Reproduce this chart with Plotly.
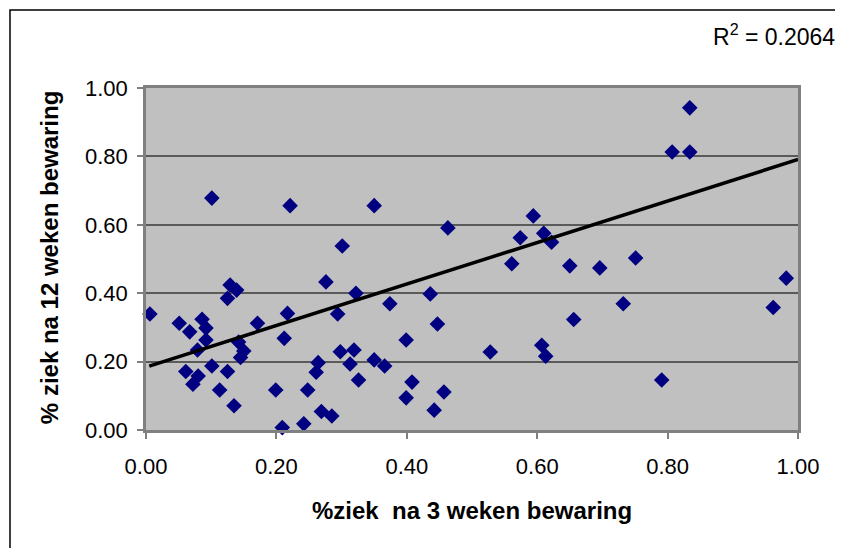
import plotly.graph_objects as go

# % ziek na 3 weken bewaring (x) and % ziek na 12 weken bewaring (y)
x_3weken = [0.006, 0.051, 0.061, 0.067, 0.072, 0.079, 0.080, 0.086, 0.092, 0.092,
            0.101, 0.101, 0.113, 0.125, 0.125, 0.129, 0.135, 0.139, 0.142, 0.145,
            0.150, 0.171, 0.199, 0.209, 0.212, 0.217, 0.221, 0.242, 0.248, 0.261,
            0.264, 0.269, 0.276, 0.285, 0.294, 0.298, 0.301, 0.313, 0.319, 0.322,
            0.326, 0.350, 0.350, 0.366, 0.374, 0.399, 0.399, 0.408, 0.436, 0.442,
            0.447, 0.457, 0.463, 0.528, 0.561, 0.574, 0.594, 0.607, 0.610, 0.613,
            0.622, 0.650, 0.656, 0.696, 0.732, 0.751, 0.791, 0.807, 0.834, 0.834,
            0.962, 0.982]
y_12weken = [0.339, 0.312, 0.171, 0.287, 0.134, 0.234, 0.158, 0.324, 0.298, 0.263,
             0.187, 0.678, 0.117, 0.171, 0.385, 0.424, 0.071, 0.409, 0.257, 0.212,
             0.231, 0.312, 0.117, 0.007, 0.268, 0.341, 0.656, 0.018, 0.117, 0.169,
             0.197, 0.054, 0.433, 0.041, 0.339, 0.229, 0.538, 0.193, 0.234, 0.400,
             0.146, 0.205, 0.656, 0.187, 0.369, 0.263, 0.094, 0.140, 0.398, 0.058,
             0.310, 0.111, 0.591, 0.228, 0.486, 0.562, 0.626, 0.248, 0.575, 0.216,
             0.549, 0.480, 0.323, 0.474, 0.369, 0.503, 0.146, 0.813, 0.813, 0.942,
             0.358, 0.444]

# trendline as drawn in the reference
trend_x = [0.005, 1.0]
trend_y = [0.187, 0.791]

tick_vals = [0.0, 0.2, 0.4, 0.6, 0.8, 1.0]
tick_text = ["0.00", "0.20", "0.40", "0.60", "0.80", "1.00"]
r2_label = "R<sup>2</sup> = 0.2064"
x_title = "%ziek\u00a0 na 3 weken bewaring"
y_title = "% ziek na 12 weken bewaring"

FONT = "Liberation Sans, Arial, sans-serif"

fig = go.Figure()
fig.add_trace(go.Scatter(
    x=x_3weken, y=y_12weken, mode="markers",
    marker=dict(symbol="diamond", size=12, color="#000080", line=dict(width=0)),
    cliponaxis=False, showlegend=False))
fig.add_trace(go.Scatter(
    x=trend_x, y=trend_y, mode="lines",
    line=dict(color="black", width=3.5), cliponaxis=False, showlegend=False))

axis_common = dict(
    range=[0, 1], tickvals=tick_vals, ticktext=tick_text,
    ticks="outside", ticklen=6, tickcolor="#808080", tickwidth=1.5,
    showline=True, linecolor="#808080", linewidth=2.5, mirror=True,
    zeroline=False, tickfont=dict(family=FONT, size=22, color="black"),
    fixedrange=True)

fig.update_xaxes(**axis_common, showgrid=False, ticklabelstandoff=9)
fig.update_yaxes(**axis_common, showgrid=True, gridcolor="#5a5a5a", gridwidth=1.5,
                 ticklabelstandoff=5)

fig.update_layout(
    width=843, height=548,
    margin=dict(l=138, r=53, t=80, b=126),
    paper_bgcolor="white", plot_bgcolor="#C0C0C0",
    font=dict(family=FONT, color="black"),
    annotations=[
        dict(text=r2_label, xref="paper", yref="paper", x=0.963, y=1.155,
             showarrow=False, font=dict(size=23), xanchor="center", yanchor="middle"),
        dict(text="<b>" + x_title + "</b>", xref="paper", yref="paper", x=0.5, y=-0.234,
             showarrow=False, font=dict(size=24), xanchor="center", yanchor="middle"),
        dict(text="<b>" + y_title + "</b>", xref="paper", yref="paper", x=-0.147, y=0.503,
             showarrow=False, font=dict(size=24), textangle=-90,
             xanchor="center", yanchor="middle"),
    ],
    shapes=[dict(type="rect", xref="paper", yref="paper",
                 x0=-0.2086, x1=1.08, y0=-0.38, y1=1.228,
                 line=dict(color="black", width=1.5), fillcolor="rgba(0,0,0,0)")],
)

fig.write_html("out.html")
